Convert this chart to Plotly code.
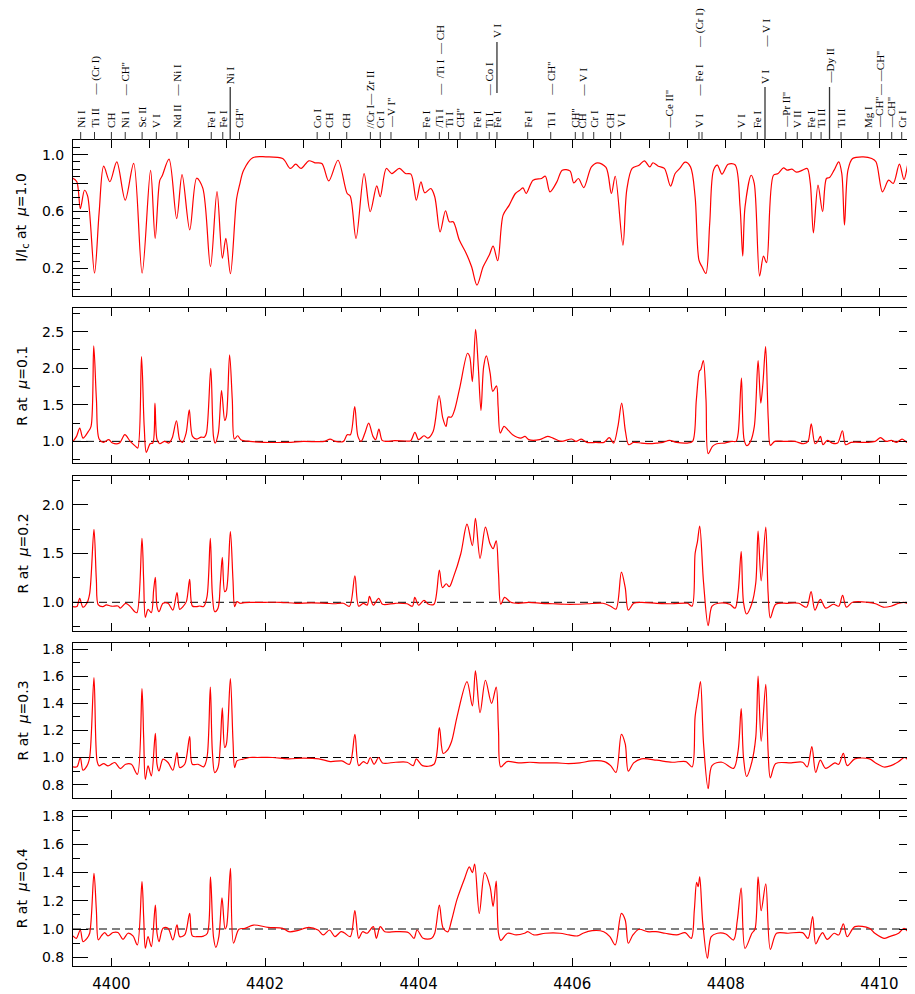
import plotly.graph_objects as go

# ---------------- data ----------------
wl_mu10 = [4399.50, 4399.55, 4399.596, 4399.65, 4399.69, 4399.78, 4399.84, 4399.90, 4399.98, 4400.07,
           4400.18, 4400.29, 4400.40, 4400.51, 4400.57, 4400.63, 4400.66, 4400.75, 4400.85, 4400.92,
           4401.02, 4401.11, 4401.19, 4401.29, 4401.375, 4401.445, 4401.49, 4401.55, 4401.63, 4401.67,
           4401.72, 4401.84, 4402.01, 4402.23, 4402.33, 4402.40, 4402.47, 4402.57, 4402.65, 4402.74,
           4402.83, 4402.95, 4403.07, 4403.11, 4403.185, 4403.29, 4403.37, 4403.455, 4403.50, 4403.58,
           4403.65, 4403.75, 4403.83, 4403.90, 4403.97, 4404.03, 4404.08, 4404.16, 4404.21, 4404.28,
           4404.35, 4404.40, 4404.45, 4404.53, 4404.62, 4404.69, 4404.76, 4404.84, 4404.92, 4404.97,
           4405.03, 4405.10, 4405.18, 4405.26, 4405.32, 4405.36, 4405.40, 4405.49, 4405.60, 4405.65,
           4405.71, 4405.80, 4405.87, 4405.97, 4406.02, 4406.08, 4406.15, 4406.25, 4406.33, 4406.44,
           4406.51, 4406.56, 4406.66, 4406.71, 4406.78, 4406.87, 4406.94, 4407.01, 4407.05, 4407.12,
           4407.20, 4407.28, 4407.34, 4407.40, 4407.47, 4407.54, 4407.60, 4407.65, 4407.69, 4407.74,
           4407.79, 4407.84, 4407.89, 4407.95, 4408.03, 4408.12, 4408.185, 4408.22, 4408.25, 4408.33,
           4408.37, 4408.44, 4408.49, 4408.53, 4408.62, 4408.68, 4408.75, 4408.80, 4408.86, 4408.92,
           4409.00, 4409.06, 4409.10, 4409.14, 4409.20, 4409.26, 4409.31, 4409.35, 4409.41, 4409.47,
           4409.51, 4409.545, 4409.59, 4409.65, 4409.79, 4409.90, 4409.955, 4410.04, 4410.12, 4410.18,
           4410.26, 4410.32, 4410.39, 4410.42, 4410.48]
ic_mu10 = [0.835, 0.81, 0.62, 0.75, 0.71, 0.165, 0.59, 0.92, 0.81, 0.95,
           0.68, 0.94, 0.165, 0.89, 0.41, 0.82, 0.85, 0.97, 0.55, 0.86,
           0.47, 0.835, 0.765, 0.21, 0.74, 0.27, 0.41, 0.16, 0.69, 0.79,
           0.89, 0.98, 0.986, 0.974, 0.904, 0.934, 0.904, 0.958, 0.944, 0.939,
           0.816, 0.962, 0.727, 0.708, 0.409, 0.868, 0.598, 0.781, 0.704, 0.904,
           0.868, 0.904, 0.868, 0.864, 0.680, 0.809, 0.732, 0.762, 0.704, 0.456,
           0.605, 0.527, 0.527, 0.398, 0.304, 0.209, 0.080, 0.209, 0.292, 0.355,
           0.252, 0.574, 0.645, 0.727, 0.751, 0.767, 0.727, 0.821, 0.833, 0.849,
           0.739, 0.809, 0.892, 0.887, 0.802, 0.833, 0.769, 0.915, 0.944, 0.911,
           0.727, 0.849, 0.362, 0.751, 0.904, 0.927, 0.958, 0.915, 0.944, 0.920,
           0.904, 0.779, 0.868, 0.904, 0.948, 0.915, 0.704, 0.256, 0.209, 0.162,
           0.515, 0.892, 0.927, 0.864, 0.934, 0.930, 0.633, 0.285, 0.633, 0.856,
           0.798, 0.144, 0.285, 0.238, 0.856, 0.868, 0.908, 0.892, 0.899, 0.878,
           0.892, 0.904, 0.798, 0.449, 0.786, 0.598, 0.833, 0.840, 0.892, 0.951,
           0.868, 0.504, 0.892, 0.974, 0.986, 0.974, 0.951, 0.739, 0.821, 0.798,
           0.934, 0.826, 0.974, 0.986, 0.920]

wl_mu01 = [4399.50, 4399.546, 4399.588, 4399.630, 4399.700, 4399.735, 4399.770, 4399.805, 4399.840, 4399.896,
           4399.966, 4400.014, 4400.105, 4400.175, 4400.245, 4400.315, 4400.343, 4400.392, 4400.427, 4400.455,
           4400.504, 4400.539, 4400.567, 4400.595, 4400.630, 4400.693, 4400.749, 4400.791, 4400.847, 4400.889,
           4400.924, 4400.973, 4401.014, 4401.056, 4401.112, 4401.168, 4401.210, 4401.238, 4401.294, 4401.329,
           4401.350, 4401.392, 4401.434, 4401.476, 4401.497, 4401.539, 4401.574, 4401.602, 4401.644, 4401.686,
           4401.798, 4402.287, 4402.497, 4402.777, 4402.847, 4402.917, 4403.021, 4403.070, 4403.112, 4403.168,
           4403.210, 4403.252, 4403.301, 4403.350, 4403.406, 4403.441, 4403.483, 4403.525, 4403.581, 4403.686,
           4403.826, 4403.896, 4403.952, 4404.000, 4404.070, 4404.119, 4404.189, 4404.266, 4404.315, 4404.357,
           4404.385, 4404.427, 4404.469, 4404.539, 4404.637, 4404.665, 4404.700, 4404.742, 4404.777, 4404.812,
           4404.847, 4404.882, 4404.931, 4404.966, 4405.014, 4405.035, 4405.063, 4405.112, 4405.168, 4405.224,
           4405.329, 4405.385, 4405.434, 4405.574, 4405.679, 4405.749, 4405.854, 4405.993, 4406.049, 4406.119,
           4406.189, 4406.308, 4406.413, 4406.483, 4406.539, 4406.595, 4406.644, 4406.693, 4406.735, 4406.798,
           4406.903, 4407.008, 4407.112, 4407.182, 4407.266, 4407.357, 4407.497, 4407.567, 4407.616, 4407.658,
           4407.672, 4407.707, 4407.742, 4407.770, 4407.826, 4407.881, 4407.986, 4408.077, 4408.133, 4408.161,
           4408.203, 4408.238, 4408.273, 4408.322, 4408.371, 4408.420, 4408.455, 4408.483, 4408.518, 4408.553,
           4408.581, 4408.637, 4408.756, 4408.895, 4409.014, 4409.070, 4409.112, 4409.161, 4409.196, 4409.231,
           4409.266, 4409.322, 4409.385, 4409.455, 4409.518, 4409.560, 4409.630, 4409.840, 4409.944, 4410.014,
           4410.084, 4410.154, 4410.224, 4410.294, 4410.364, 4410.455]
r_mu01 = [1.0, 1.068, 1.182, 1.045, 1.136, 1.205, 2.305, 1.568, 1.032, 0.986,
          1.023, 0.977, 0.977, 1.091, 1.0, 0.932, 0.909, 2.159, 1.205, 0.850,
          0.968, 0.977, 1.523, 1.023, 0.968, 1.0, 0.977, 1.045, 1.282, 1.023,
          0.986, 1.114, 1.432, 1.068, 1.032, 1.059, 1.055, 1.114, 2.0, 1.068,
          0.977, 1.114, 1.695, 1.286, 1.341, 2.182, 1.568, 1.032, 1.077, 1.023,
          1.0, 0.986, 1.0, 1.0, 1.032, 1.0, 1.0, 1.091, 1.091, 1.477,
          1.068, 1.0, 1.114, 1.25, 1.068, 1.023, 1.168, 1.014, 1.0, 1.009,
          1.005, 1.009, 1.123, 1.023, 1.077, 1.045, 1.136, 1.627, 1.318, 1.205,
          1.332, 1.332, 1.432, 1.75, 2.205, 2.159, 1.818, 2.532, 2.023, 1.423,
          2.023, 2.168, 1.932, 1.682, 1.759, 1.477, 1.114, 1.205, 1.15, 1.091,
          1.045, 1.068, 1.023, 1.023, 1.068, 1.045, 1.0, 1.032, 1.0, 1.032,
          0.986, 0.986, 0.986, 1.05, 0.977, 1.205, 1.523, 1.136, 0.955, 0.986,
          0.977, 0.968, 0.977, 0.986, 1.014, 0.986, 0.977, 1.0, 1.568, 1.968,
          1.977, 2.105, 1.568, 0.832, 0.932, 0.968, 0.977, 1.0, 1.0, 1.114,
          1.864, 1.023, 0.941, 1.0, 1.205, 2.105, 1.523, 1.795, 2.295, 1.295,
          0.945, 1.0, 1.0, 1.0, 0.968, 1.0, 1.241, 0.968, 1.0, 1.068,
          0.955, 1.014, 0.977, 0.977, 1.145, 0.955, 0.986, 0.986, 1.0, 1.05,
          1.0, 1.014, 0.986, 1.032, 0.986, 1.0]

wl_mu02 = [4399.50, 4399.55, 4399.587, 4399.63, 4399.68, 4399.717, 4399.773, 4399.804, 4399.83, 4399.89,
           4399.934, 4400.0, 4400.086, 4400.116, 4400.186, 4400.247, 4400.303, 4400.333, 4400.398, 4400.42,
           4400.442, 4400.477, 4400.52, 4400.55, 4400.572, 4400.594, 4400.62, 4400.672, 4400.737, 4400.80,
           4400.854, 4400.889, 4400.932, 4400.976, 4401.019, 4401.054, 4401.106, 4401.15, 4401.20, 4401.245,
           4401.288, 4401.314, 4401.345, 4401.388, 4401.418, 4401.444, 4401.475, 4401.497, 4401.549, 4401.583,
           4401.605, 4401.635, 4401.679, 4401.735, 4401.80,
           4401.9, 4402.0, 4402.2, 4402.4, 4402.6, 4402.8, 4402.9, 4403.02, 4403.1, 4403.17,
           4403.22, 4403.28, 4403.33, 4403.36, 4403.41, 4403.48, 4403.53, 4403.7, 4403.85, 4403.92,
           4403.95, 4404.0, 4404.07, 4404.13, 4404.2, 4404.27, 4404.31, 4404.36, 4404.4, 4404.45,
           4404.55, 4404.63, 4404.70, 4404.74, 4404.80, 4404.87, 4404.93, 4404.97, 4405.01, 4405.04,
           4405.07, 4405.12, 4405.2, 4405.3, 4405.43, 4405.6, 4405.75, 4405.9, 4406.05, 4406.2,
           4406.4, 4406.5, 4406.57, 4406.64, 4406.69, 4406.73, 4406.8, 4406.9, 4407.1, 4407.3,
           4407.5, 4407.56, 4407.6, 4407.63, 4407.66, 4407.71, 4407.77, 4407.82, 4407.9, 4408.05,
           4408.12, 4408.16, 4408.20, 4408.23, 4408.27, 4408.34, 4408.39, 4408.42, 4408.46, 4408.52,
           4408.55, 4408.58, 4408.65, 4408.8, 4408.95, 4409.05, 4409.11, 4409.16, 4409.23, 4409.3,
           4409.4, 4409.47, 4409.52, 4409.57, 4409.65, 4409.85, 4409.95, 4410.05, 4410.15, 4410.25,
           4410.32, 4410.38, 4410.45]
r_mu02 = [0.956, 0.956, 1.04, 0.95, 0.99, 1.09, 1.747, 1.23, 0.973, 0.956,
          0.973, 0.96, 0.962, 0.94, 0.99, 0.956, 0.904, 0.894, 1.655, 1.229,
          0.846, 0.928, 0.894, 1.126, 1.256, 0.956, 0.904, 0.99, 0.99, 0.92,
          1.099, 0.928, 0.956, 1.007, 1.235, 0.962, 0.956, 0.962, 0.956, 1.058,
          1.655, 1.092, 0.904, 0.94, 1.195, 1.46, 1.109, 1.126, 1.724, 1.229,
          0.956, 1.007, 0.99, 0.997, 1.0,
          1.0, 1.0, 1.0, 0.99, 0.995, 0.99, 0.985, 0.99, 0.96, 1.27,
          0.96, 0.99, 0.97, 1.06, 0.97, 1.04, 0.98, 0.99, 0.985, 0.96,
          1.05, 0.97, 1.02, 0.98, 0.98, 1.33, 1.15, 1.19, 1.16, 1.25,
          1.5, 1.80, 1.58, 1.86, 1.45, 1.77, 1.6, 1.55, 1.63, 1.3,
          0.98, 1.05, 1.0, 0.99, 1.0, 0.99, 0.985, 0.98, 0.98, 0.985,
          0.99, 0.96, 0.93, 1.31, 1.15, 0.92, 0.99, 1.0, 0.99, 0.985,
          0.99, 0.96, 1.5, 1.62, 1.78, 1.2, 0.76, 0.96, 0.99, 0.98,
          0.94, 1.1, 1.52, 1.0, 0.88, 0.99, 1.2, 1.73, 1.22, 1.77,
          1.1, 0.84, 0.98, 0.99, 0.99, 0.95, 1.11, 0.92, 1.03, 0.94,
          0.98, 0.96, 1.07, 0.95, 1.0, 1.0, 0.985, 0.95, 0.96, 0.99,
          1.0, 0.985, 1.0]

wl_mu03 = [4399.5, 4399.552, 4399.595, 4399.63, 4399.682, 4399.717, 4399.773, 4399.813, 4399.839, 4399.90,
           4399.956, 4400.043, 4400.116, 4400.186, 4400.26, 4400.338, 4400.398, 4400.42, 4400.442, 4400.477,
           4400.52, 4400.572, 4400.594, 4400.62, 4400.672, 4400.737, 4400.80, 4400.854, 4400.889, 4400.954,
           4401.019, 4401.054, 4401.128, 4401.201, 4401.245, 4401.288, 4401.314, 4401.345, 4401.388, 4401.418,
           4401.444, 4401.475, 4401.497, 4401.549, 4401.583, 4401.605, 4401.635, 4401.714, 4401.80,
           4401.9, 4402.1, 4402.3, 4402.5, 4402.7, 4402.85, 4403.0, 4403.1, 4403.17, 4403.22,
           4403.28, 4403.33, 4403.37, 4403.42, 4403.48, 4403.53, 4403.7, 4403.85, 4403.93, 4403.97,
           4404.05, 4404.2, 4404.27, 4404.32, 4404.37, 4404.43, 4404.5, 4404.63, 4404.70, 4404.74,
           4404.80, 4404.87, 4404.95, 4405.01, 4405.04, 4405.07, 4405.15, 4405.3, 4405.45, 4405.6,
           4405.8, 4405.95, 4406.1, 4406.25, 4406.42, 4406.5, 4406.57, 4406.64, 4406.69, 4406.73,
           4406.8, 4406.9, 4407.1, 4407.3, 4407.48, 4407.56, 4407.6, 4407.64, 4407.67, 4407.71,
           4407.77, 4407.82, 4407.95, 4408.1, 4408.16, 4408.20, 4408.23, 4408.27, 4408.34, 4408.39,
           4408.42, 4408.46, 4408.52, 4408.55, 4408.58, 4408.65, 4408.85, 4409.0, 4409.06, 4409.12,
           4409.17, 4409.23, 4409.3, 4409.42, 4409.47, 4409.53, 4409.58, 4409.68, 4409.87, 4409.95,
           4410.06, 4410.15, 4410.25, 4410.33, 4410.4, 4410.45]
r_mu03 = [0.931, 0.931, 1.0, 0.906, 0.938, 1.0, 1.589, 0.975, 0.938, 0.955,
          0.938, 0.963, 0.918, 0.95, 0.95, 0.876, 1.508, 1.149, 0.839, 0.938,
          0.864, 1.178, 0.95, 0.901, 0.988, 0.963, 0.906, 1.037, 0.926, 0.95,
          1.154, 0.95, 0.95, 0.931, 1.0, 1.52, 1.05, 0.889, 0.926, 1.099,
          1.367, 1.074, 1.099, 1.582, 1.124, 0.926, 0.975, 0.988, 1.0,
          1.0, 1.0, 0.99, 0.995, 0.99, 0.97, 0.975, 0.95, 1.17, 0.94,
          0.97, 0.955, 1.0, 0.95, 1.0, 0.96, 0.965, 0.965, 0.94, 0.99,
          0.94, 0.95, 1.22, 1.03, 1.05, 1.12, 1.3, 1.56, 1.38, 1.64,
          1.33, 1.57, 1.40, 1.52, 1.2, 0.93, 0.97, 0.96, 0.965, 0.96,
          0.96, 0.955, 0.96, 0.975, 0.97, 0.94, 0.89, 1.17, 1.1, 0.9,
          0.96, 0.99, 0.98, 0.965, 0.97, 0.93, 1.3, 1.45, 1.56, 1.1,
          0.77, 0.94, 0.965, 0.92, 1.05, 1.36, 1.0, 0.86, 0.97, 1.15,
          1.60, 1.12, 1.54, 1.05, 0.85, 0.955, 0.96, 0.965, 0.93, 1.08,
          0.89, 0.98, 0.92, 0.96, 0.95, 1.03, 0.94, 0.99, 0.99, 0.96,
          0.93, 0.94, 0.97, 1.0, 0.97, 0.99]

wl_mu04 = [4399.5, 4399.543, 4399.595, 4399.63, 4399.682, 4399.717, 4399.773, 4399.804, 4399.83, 4399.869,
           4399.912, 4399.956, 4400.021, 4400.086, 4400.151, 4400.216, 4400.281, 4400.338, 4400.398, 4400.42,
           4400.442, 4400.477, 4400.52, 4400.572, 4400.594, 4400.62, 4400.672, 4400.737, 4400.80, 4400.854,
           4400.889, 4400.954, 4401.019, 4401.054, 4401.128, 4401.2, 4401.25, 4401.29, 4401.33, 4401.36,
           4401.40, 4401.44, 4401.48, 4401.50, 4401.55, 4401.59, 4401.66, 4401.74, 4401.85, 4402.04,
           4402.23, 4402.31, 4402.42, 4402.57, 4402.69, 4402.76, 4402.84, 4402.91, 4402.99, 4403.03,
           4403.11, 4403.17, 4403.22, 4403.27, 4403.33, 4403.41, 4403.45, 4403.5, 4403.56, 4403.71,
           4403.87, 4403.94, 4403.98, 4404.06, 4404.17, 4404.21, 4404.27, 4404.32, 4404.38, 4404.43,
           4404.5, 4404.60, 4404.66, 4404.70, 4404.73, 4404.79, 4404.86, 4404.93, 4404.97, 4405.01,
           4405.04, 4405.07, 4405.16, 4405.27, 4405.38, 4405.42, 4405.5, 4405.65, 4405.84, 4405.96,
           4406.07, 4406.14, 4406.26, 4406.41, 4406.49, 4406.56, 4406.64, 4406.69, 4406.73, 4406.79,
           4406.87, 4406.98, 4407.09, 4407.21, 4407.36, 4407.47, 4407.55, 4407.59, 4407.62, 4407.64,
           4407.66, 4407.70, 4407.76, 4407.81, 4407.89, 4408.0, 4408.10, 4408.15, 4408.20, 4408.25,
           4408.34, 4408.38, 4408.42, 4408.46, 4408.52, 4408.58, 4408.66, 4408.81, 4409.0, 4409.07,
           4409.13, 4409.17, 4409.22, 4409.26, 4409.32, 4409.41, 4409.47, 4409.53, 4409.58, 4409.68,
           4409.87, 4409.94, 4410.06, 4410.13, 4410.25, 4410.32, 4410.38, 4410.45]
r_mu04 = [0.951, 0.934, 0.993, 0.911, 0.934, 0.97, 1.394, 1.135, 0.923, 0.951,
          0.975, 0.951, 0.975, 0.975, 0.927, 0.97, 0.951, 0.887, 1.335, 1.088,
          0.864, 0.946, 0.875, 1.17, 0.97, 0.911, 1.005, 1.005, 0.923, 1.029,
          0.946, 0.958, 1.111, 0.951, 0.946, 0.95, 0.97, 1.37, 0.94, 0.87,
          0.95, 1.22, 1.0, 1.02, 1.43, 0.90, 0.998, 1.005, 1.028, 1.012,
          1.005, 0.981, 0.988, 1.012, 0.993, 0.958, 0.993, 0.946, 0.981, 0.974,
          0.946, 1.13, 0.934, 0.981, 0.97, 1.017, 0.934, 1.017, 0.981, 0.981,
          0.974, 0.934, 0.993, 0.934, 0.934, 0.97, 1.17, 1.005, 0.98, 1.064,
          1.21, 1.36, 1.44, 1.40, 1.46, 1.11, 1.40, 1.3, 1.16, 1.34,
          0.97, 0.92, 0.97, 0.958, 0.97, 0.981, 0.958, 0.97, 0.97, 0.958,
          0.951, 0.97, 0.988, 0.981, 0.946, 0.887, 1.111, 1.064, 0.899, 0.958,
          0.998, 0.981, 0.981, 0.97, 0.958, 0.974, 0.934, 1.135, 1.33, 1.30,
          1.37, 1.04, 0.793, 0.946, 0.97, 0.965, 0.922, 1.064, 1.29, 0.863,
          0.97, 1.0, 1.37, 1.13, 1.32, 0.856, 0.97, 0.97, 0.974, 0.934,
          1.088, 0.894, 0.946, 0.974, 0.927, 0.97, 0.958, 1.036, 0.946, 1.017,
          1.005, 0.97, 0.934, 0.946, 0.97, 1.005, 0.981, 0.998]

# spectral line identifications (wavelength, stacked label segments: (text, tier))
line_wl = [4399.60, 4399.78, 4400.00, 4400.18, 4400.40, 4400.585, 4400.853, 4401.30, 4401.45, 4401.547,
           4401.668, 4402.679, 4402.839, 4403.064, 4403.372, 4403.50, 4403.64, 4404.096, 4404.27, 4404.39,
           4404.54, 4404.76, 4404.92, 4405.02, 4405.42, 4405.72, 4406.04, 4406.14, 4406.28, 4406.50,
           4406.63, 4407.265, 4407.65, 4407.69, 4408.20, 4408.41, 4408.51, 4408.78, 4408.93, 4409.11,
           4409.24, 4409.35, 4409.50, 4409.85, 4410.00, 4410.16, 4410.29]
line_labels = [
    [("Ni I", 0)], [("Ti II", 0), ("— (Cr I)", 1)], [("CH", 0)], [("Ni I", 0), ("— CH''", 1)],
    [("Sc II", 0)], [("V I", 0)], [("Nd II", 0), ("— Ni I", 1)], [("Fe I", 0)], [("Fe I", 0)],
    [("Ni I", 2)], [("CH''", 0)], [("Co I", 0)], [("CH", 0)], [("CH", 0)],
    [("//Cr I— Zr II", 0)], [("Cr I", 0)], [("—V I''", 0)], [("Fe I", 0)],
    [("/Ti I", 0), ("—  /Ti I  — CH", 1)], [("Ti I", 0)], [("CH''", 0)], [("Fe I", 0)],
    [("Ti I", 0), ("— Co I", 1)], [("Fe I", 0), ("V I", 4)], [("Fe I", 0)],
    [("Ti I", 0), ("— CH''", 1)], [("CH''", 0)], [("CH", 0), ("— V I", 1)], [("Cr I", 0)],
    [("CH", 0)], [("V I", 0)], [("—Ce II''", 0)],
    [("V I", 0), ("— Fe I", 1), ("— (Cr I)", 3)], [],
    [("V I", 0)], [("Fe I", 0)], [("V I", 2), ("— V I", 3)], [("—Pr II''", 0)], [("V II", 0)],
    [("Fe I", 0)], [("Ti II", 0)], [("—Dy II", 2)], [("Ti II", 0)], [("Mg I", 0)],
    [("—CH''", 0), ("— —CH''", 1)], [("—CH''", 0)], [("Cr I", 0)],
]
long_line_idx = [9, 36, 41]      # lines drawn from the frame up to the raised label
raised_line_idx = [23]           # line drawn between two stacked labels

panel_wl = [wl_mu10, wl_mu01, wl_mu02, wl_mu03, wl_mu04]
panel_val = [ic_mu10, r_mu01, r_mu02, r_mu03, r_mu04]
for a, b in zip(panel_wl, panel_val):
    assert len(a) == len(b), (len(a), len(b))
assert len(line_wl) == len(line_labels)

panel_titles = ["I/I<sub>c</sub> at  <i>μ</i>=1.0", "R at  <i>μ</i>=0.1", "R at  <i>μ</i>=0.2",
                "R at  <i>μ</i>=0.3", "R at  <i>μ</i>=0.4"]
y_ranges = [[0.005, 1.105], [0.70, 2.82], [0.706, 2.294], [0.699, 1.847], [0.738, 1.838]]
y_tickvals = [[0.2, 0.6, 1.0], [1.0, 1.5, 2.0, 2.5], [1.0, 1.5, 2.0],
              [0.8, 1.0, 1.2, 1.4, 1.6, 1.8], [0.8, 1.0, 1.2, 1.4, 1.6, 1.8]]
y_ticktext = [["0.2", "0.6", "1.0"], ["1.0", "1.5", "2.0", "2.5"], ["1.0", "1.5", "2.0"],
              ["0.8", "1.0", "1.2", "1.4", "1.6", "1.8"], ["0.8", "1.0", "1.2", "1.4", "1.6", "1.8"]]
y1_unlabeled_major = [0.4, 0.8]
y_minor = [0.05, 0.25, 0.25, 0.1, 0.1]
x_range = [4399.5, 4410.45]
x_ticks = [4400, 4402, 4404, 4406, 4408, 4410]

# ---------------- layout geometry ----------------
# page pixels of the target; the browser page adds an 8px body margin, so the
# figure is drawn 8px smaller and all page positions are shifted by OFF.
OFF = 8
W, H = 915 - OFF, 994 - OFF
ML, MR, MT, MB = 73 - OFF, 1, 140 - OFF, 28
PH = H - MT - MB
PW = W - ML - MR
panel_px = [(140, 295.7), (308.3, 463.3), (476, 631), (642.7, 798.3), (810.7, 966)]


def py(px_page):
    return (H - MB - (px_page - OFF)) / PH


fig = go.Figure()
for i in range(5):
    sfx = "" if i == 0 else str(i + 1)
    fig.add_trace(go.Scatter(x=panel_wl[i], y=panel_val[i], mode="lines",
                             line=dict(color="#ff0000", width=1.2, shape="spline", smoothing=0.9),
                             xaxis="x" + sfx, yaxis="y" + sfx, showlegend=False, hoverinfo="skip"))
# empty trace carrying the overlay axis with the unlabeled long ticks of the top panel
fig.add_trace(go.Scatter(x=[], y=[], xaxis="x", yaxis="y6", showlegend=False, hoverinfo="skip"))

tick_font = dict(family="DejaVu Sans", size=14, color="black")
layout = dict(width=W, height=H, plot_bgcolor="white", paper_bgcolor="white",
              margin=dict(l=ML, r=MR, t=MT, b=MB, autoexpand=False), showlegend=False)
for i in range(5):
    sfx = "" if i == 0 else str(i + 1)
    top, bot = panel_px[i]
    layout["xaxis" + sfx] = dict(
        range=x_range, anchor="y" + sfx, showline=True, linecolor="black", linewidth=1,
        mirror="allticks", ticks="inside", ticklen=8, tickwidth=1, tickcolor="black",
        tickmode="array", tickvals=x_ticks, ticktext=[str(t) for t in x_ticks],
        showticklabels=(i == 4), tickfont=dict(family="DejaVu Sans", size=15, color="black"),
        minor=dict(tickmode="linear", tick0=4400, dtick=0.5, ticks="inside", ticklen=4,
                   tickcolor="black", tickwidth=1),
        showgrid=False, zeroline=False, ticklabelstandoff=4)
    if i > 0:
        layout["xaxis" + sfx]["matches"] = "x"
    layout["yaxis" + sfx] = dict(
        domain=[py(bot), py(top)], range=y_ranges[i], anchor="x" + sfx, showline=True,
        linecolor="black", linewidth=1, mirror="allticks", ticks="inside", ticklen=15,
        tickwidth=1, tickcolor="black", tickmode="array", tickvals=y_tickvals[i],
        ticktext=y_ticktext[i], tickfont=tick_font,
        minor=dict(tickmode="linear", tick0=0, dtick=y_minor[i], ticks="inside", ticklen=7,
                   tickcolor="black", tickwidth=1),
        showgrid=False, zeroline=False, ticklabelstandoff=5)
layout["yaxis6"] = dict(overlaying="y", anchor="x", side="left", range=y_ranges[0],
                        tickmode="array", tickvals=y1_unlabeled_major, showticklabels=False,
                        ticks="inside", ticklen=15, tickwidth=1, tickcolor="black", mirror="ticks",
                        showline=False, showgrid=False, zeroline=False)
fig.update_layout(**layout)

shapes = []
annotations = []
# dashed unity lines in R panels
for i in range(1, 5):
    sfx = str(i + 1)
    shapes.append(dict(type="line", xref="x" + sfx + " domain", yref="y" + sfx, x0=0, x1=1, y0=1.0, y1=1.0,
                       line=dict(color="black", width=1, dash="8px,5px"), layer="below"))

# y-axis titles
for i in range(5):
    top, bot = panel_px[i]
    annotations.append(dict(text=panel_titles[i], xref="paper", yref="paper", x=(22 - OFF - ML) / PW,
                            y=py((top + bot) / 2), textangle=-90, showarrow=False, xanchor="center",
                            yanchor="middle", font=dict(family="DejaVu Sans", size=14, color="black")))

# line identifications above the top panel
tier_px = {0: 129, 1: 97, 2: 85, 3: 49, 4: 39}
lab_font = dict(family="Liberation Serif", size=11, color="black")
for k, (wl, segs) in enumerate(zip(line_wl, line_labels)):
    if k in long_line_idx:
        shapes.append(dict(type="line", xref="x", yref="paper", x0=wl, x1=wl, y0=py(140), y1=py(87),
                           line=dict(color="#333333", width=1.3)))
    else:
        shapes.append(dict(type="line", xref="x", yref="paper", x0=wl, x1=wl, y0=py(140), y1=py(132),
                           line=dict(color="#333333", width=1)))
    if k in raised_line_idx:
        shapes.append(dict(type="line", xref="x", yref="paper", x0=wl, x1=wl, y0=py(93), y1=py(42),
                           line=dict(color="#333333", width=1.3)))
    for text, tier in segs:
        annotations.append(dict(text=text, xref="x", yref="paper", x=wl, y=py(tier_px[tier]),
                                textangle=-90, showarrow=False, xanchor="center", yanchor="bottom",
                                font=lab_font, borderpad=0))

fig.update_layout(shapes=shapes, annotations=annotations)
fig.write_html("out.html")
